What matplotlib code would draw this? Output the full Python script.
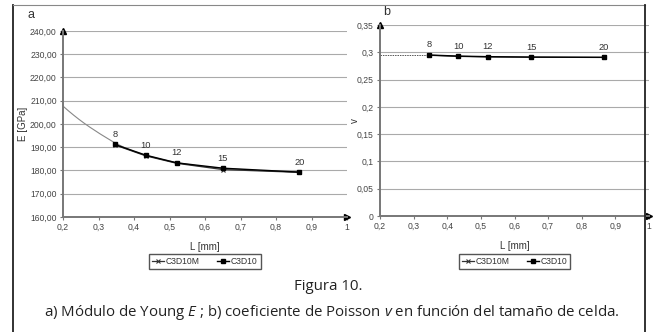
import numpy as np
import matplotlib
matplotlib.use("Agg")
import matplotlib.pyplot as plt
from matplotlib.lines import Line2D
from matplotlib.ticker import FuncFormatter

plt.rcParams['font.family'] = ['Liberation Sans', 'DejaVu Sans']
plt.rcParams['mathtext.fontset'] = 'custom'
plt.rcParams['mathtext.it'] = 'Open Sans:italic'
plt.rcParams['mathtext.rm'] = 'Open Sans'

# cell size L [mm] and number of cells
L = [0.346, 0.433, 0.52, 0.65, 0.866]
n_cells = ['8', '10', '12', '15', '20']

# Young modulus E [GPa]
E_c3d10m = [191.0, 186.3, 183.1, 180.4, 179.2]
E_c3d10 = [191.2, 186.6, 183.3, 181.0, 179.3]
# trend curve
L_trend = [0.2, 0.215, 0.23, 0.245, 0.26, 0.275, 0.29, 0.305, 0.32, 0.335, 0.346,
           0.37, 0.4, 0.433, 0.48, 0.52, 0.58, 0.65, 0.75, 0.866]
E_trend = [207.7, 205.7, 203.8, 202.0, 200.3, 198.7, 197.2, 195.7, 194.3, 192.9, 191.9,
           190.1, 188.2, 186.5, 184.7, 183.4, 182.0, 180.9, 180.0, 179.3]

# Poisson coefficient v
nu_c3d10m = [0.2945, 0.2925, 0.2915, 0.291, 0.2905]
nu_c3d10 = [0.2950, 0.2930, 0.2920, 0.2912, 0.2908]
L_nu_trend = [0.2, 0.346]
nu_trend = [0.2950, 0.2950]

grey = '#777777'
fs = 6.2


def comma(fmt):
    return FuncFormatter(lambda v, p: (fmt % v).replace('.', ','))


def setup_axes(ax, ylim, yticks, yfmt, ylabel):
    ax.set_xlim(0.2, 1.0)
    ax.set_ylim(*ylim)
    ax.set_xticks(np.arange(0.2, 1.01, 0.1))
    ax.xaxis.set_major_formatter(FuncFormatter(lambda v, p: '1' if abs(v - 1) < 1e-6 else ('%.1f' % v).replace('.', ',')))
    ax.set_yticks(yticks)
    ax.yaxis.set_major_formatter(yfmt)
    for s in ['top', 'right']:
        ax.spines[s].set_visible(False)
    for s in ['left', 'bottom']:
        ax.spines[s].set_color(grey)
        ax.spines[s].set_linewidth(1.4)
    ax.tick_params(colors='#444444', labelsize=fs, length=2.5, width=0.8, pad=2)
    ax.tick_params(axis='both', color=grey)
    ax.yaxis.grid(True, color='#aaaaaa', lw=0.8)
    ax.set_axisbelow(True)
    ax.plot([0], [1], marker='^', color='black', ms=5, transform=ax.transAxes, clip_on=False)
    ax.plot([1], [0], marker='>', color='black', ms=5, transform=ax.transAxes, clip_on=False)
    ax.set_xlabel('L [mm]', fontsize=fs + 0.8, color='#333333', labelpad=7)
    ax.set_ylabel(ylabel, fontsize=fs + 0.8, color='#333333')


def add_legend(ax):
    ax.legend(loc='upper center', bbox_to_anchor=(0.5, -0.175), ncol=2, fontsize=fs, frameon=True,
              fancybox=False, edgecolor='#555555', handlelength=1.4, columnspacing=2.0, handletextpad=0.2,
              borderpad=0.35, labelcolor='#333333', framealpha=1)


fig = plt.figure(figsize=(6.56, 3.32), dpi=100)

# panel a
ax1 = fig.add_axes([63 / 656, 115 / 332, 284 / 656, 186 / 332])
setup_axes(ax1, (160, 240), np.arange(160, 241, 10), comma('%.2f'), 'E [GPa]')
ax1.yaxis.set_label_coords(-0.125, 0.5)
ax1.plot(L_trend, E_trend, color='#888888', lw=0.8)
ax1.plot(L, E_c3d10m, color='#333333', lw=0.9, marker='x', ms=3.5, mew=0.8, label='C3D10M')
ax1.plot(L, E_c3d10, color='black', lw=1.0, marker='s', ms=3.5, label='C3D10')
for x, y, t in zip(L, E_c3d10, n_cells):
    ax1.annotate(t, (x, y), xytext=(0, 4), textcoords='offset points', ha='center', va='bottom', fontsize=fs + 0.5, color='#333333')
add_legend(ax1)
fig.text(27 / 656, 1 - 15 / 332, 'a', fontsize=9, color='#333333', va='center')

# panel b
ax2 = fig.add_axes([380 / 656, 116 / 332, 269 / 656, 191 / 332])
setup_axes(ax2, (0, 0.35), np.arange(0, 0.351, 0.05),
           FuncFormatter(lambda v, p: ('%g' % round(v, 2)).replace('.', ',')), 'v')
ax2.yaxis.set_label_coords(-0.075, 0.5)
ax2.plot(L_nu_trend, nu_trend, color='#555555', lw=0.7, ls=(0, (1.5, 1)))
ax2.plot(L, nu_c3d10m, color='#333333', lw=0.9, marker='x', ms=3.5, mew=0.8, label='C3D10M')
ax2.plot(L, nu_c3d10, color='black', lw=1.0, marker='s', ms=3.5, label='C3D10')
for x, y, t in zip(L, nu_c3d10, n_cells):
    ax2.annotate(t, (x, y), xytext=(0, 4), textcoords='offset points', ha='center', va='bottom', fontsize=fs + 0.5, color='#333333')
add_legend(ax2)
fig.text(383 / 656, 1 - 12 / 332, 'b', fontsize=9, color='#333333', va='center')

# caption
fig.text(328 / 656, 1 - 287 / 332, 'Figura 10.', ha='center', va='center', fontsize=10.8,
         family='Open Sans', color='#222222')
fig.text(332 / 656, 1 - 313 / 332,
         'a) Módulo de Young $E$ ; b) coeficiente de Poisson $v$ en función del tamaño de celda.',
         ha='center', va='center', fontsize=10.8, family='Open Sans', color='#222222')

# page frame
fig.add_artist(Line2D([13 / 656, 13 / 656], [0, 1 - 5 / 332], color='#222222', lw=1.3))
fig.add_artist(Line2D([13 / 656, 645 / 656], [1 - 5 / 332, 1 - 5 / 332], color='#888888', lw=0.8))
fig.add_artist(Line2D([645 / 656, 645 / 656], [0, 1 - 5 / 332], color='#222222', lw=1.3))

fig.savefig('out.png', dpi=100)
